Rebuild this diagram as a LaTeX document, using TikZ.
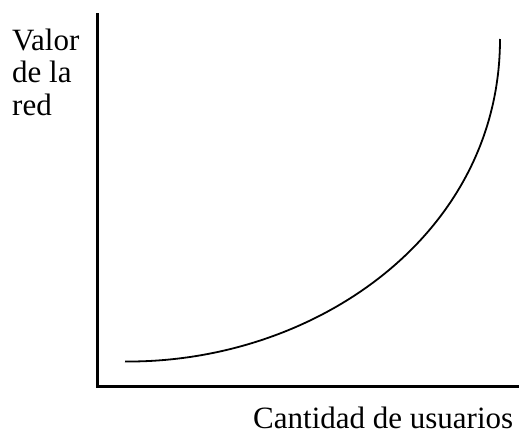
\documentclass[tikz,border=0pt]{standalone}
\usepackage{fontspec}
\setmainfont{Liberation Serif}
\begin{document}
\begin{tikzpicture}[x=1pt,y=-1pt,
  axis/.style={line width=2.2pt},
  curveline/.style={line width=1.8pt},
  lbl/.style={inner sep=0pt,font=\fontsize{31}{32.5}\selectfont}]
\useasboundingbox (0,0) rectangle (519,434);
\coordinate (top) at (97.5,13);
\coordinate (origin) at (97.5,386.5);
\coordinate (right) at (519,386.5);
\draw[axis] (top) -- (origin) -- (right);
\coordinate (start) at (125,361.5);
\coordinate (end) at (500,39);
\draw[curveline] (start) .. controls (315,363) and (500,235) .. (end);
\node[lbl,anchor=base west,align=left] (ylab) at (12,115) {Valor\\de la\\red};
\node[lbl,anchor=base west] (xlab) at (253,428.5) {Cantidad de usuarios};
\end{tikzpicture}
\end{document}
